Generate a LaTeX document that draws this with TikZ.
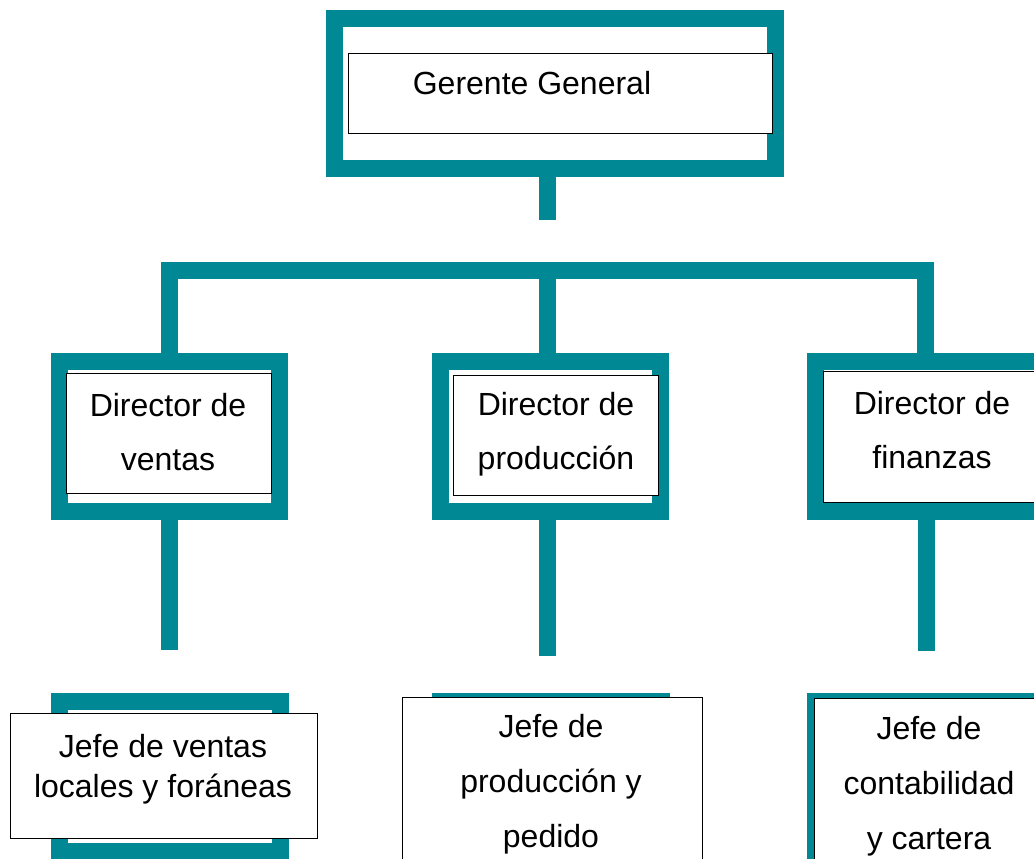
\documentclass[tikz,border=0pt]{standalone}
\usepackage{fontspec}
\setmainfont{Liberation Sans}
\definecolor{frameteal}{RGB}{0,136,148}
\begin{document}
\begin{tikzpicture}[x=1pt,y=-1pt,
  frame/.style={draw=frameteal,line width=17pt},
  bar/.style={draw=frameteal,line width=17pt},
  wbox/.style={draw=black,fill=white,line width=0.9pt},
  lbl/.style={align=center,inner sep=0pt,text=black}]
\useasboundingbox (0,0) rectangle (1034,859);
\clip (0,0) rectangle (1034,859);
% named coordinates for connectors
\coordinate (gbot) at (547.5,177);
\coordinate (gstem) at (547.5,220);
\coordinate (barL) at (161,270);
\coordinate (barR) at (934,270);
\coordinate (vL) at (169.5,278);
\coordinate (vM) at (547.5,278);
\coordinate (vR) at (925.5,278);
\coordinate (dL) at (169.5,353);
\coordinate (dM) at (547.5,353);
\coordinate (dR) at (925.5,353);
\coordinate (sLt) at (169.5,520);
\coordinate (sMt) at (547.5,520);
\coordinate (sRt) at (926,520);
\coordinate (sLb) at (169.5,650);
\coordinate (sMb) at (547.5,656);
\coordinate (sRb) at (926,651);
% frames
\draw[frame] (334.5,18.5) rectangle (775.5,168.5);
\draw[frame] (59.5,361.5) rectangle (279.5,511.5);
\draw[frame] (440.5,361.5) rectangle (660.5,511.5);
\draw[frame] (815.5,361.5) rectangle (1060,511.5);
\draw[frame] (59.5,701.5) rectangle (280,851.5);
\draw[frame] (440.5,701.5) rectangle (661.5,851.5);
\draw[frame] (815.5,701.5) rectangle (1060,851.5);
% connectors
\draw[bar] (gbot) -- (gstem);
\draw[bar] (barL) -- (barR);
\draw[bar] (vL) -- (dL);
\draw[bar] (vM) -- (dM);
\draw[bar] (vR) -- (dR);
\draw[bar] (sLt) -- (sLb);
\draw[bar] (sMt) -- (sMb);
\draw[bar] (sRt) -- (sRb);
% white boxes
\path[wbox] (348,53) rectangle (772,133) node[pos=0.5,inner sep=0pt] (gg) {};
\path[wbox] (66,373) rectangle (271,493) node[pos=0.5,inner sep=0pt] (dv) {};
\path[wbox] (453,375) rectangle (658,495) node[pos=0.5,inner sep=0pt] (dp) {};
\path[wbox] (823,371) rectangle (1045,502) node[pos=0.5,inner sep=0pt] (df) {};
\path[wbox] (10,713) rectangle (317,838) node[pos=0.5,inner sep=0pt] (jv) {};
\path[wbox] (402,697) rectangle (702,875) node[pos=0.5,inner sep=0pt] (jp) {};
\path[wbox] (814,698) rectangle (1045,875) node[pos=0.5,inner sep=0pt] (jc) {};
% texts
\node[lbl,font=\fontsize{32}{54}\selectfont] (tgg) at (532,83) {Gerente General};
\node[lbl,font=\fontsize{32}{54}\selectfont] (tdv) at (168,432) {Director de\\ventas};
\node[lbl,font=\fontsize{32}{54}\selectfont] (tdp) at (556,434) {Director de\\producción};
\node[lbl,font=\fontsize{32}{54}\selectfont] (tdf) at (932,430) {Director de\\finanzas};
\node[lbl,font=\fontsize{32}{40}\selectfont] (tjv) at (163,769) {Jefe de ventas\\locales y foráneas};
\node[lbl,font=\fontsize{32}{55}\selectfont] (tjp) at (551,784) {Jefe de\\producción y\\pedido};
\node[lbl,font=\fontsize{32}{55}\selectfont] (tjc) at (929,786) {Jefe de\\contabilidad\\y cartera};
\end{tikzpicture}
\end{document}
